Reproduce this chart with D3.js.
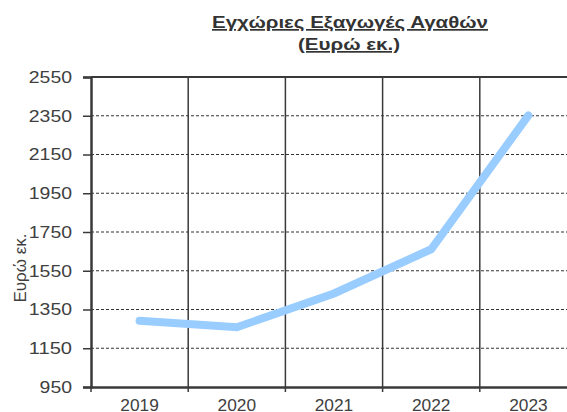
<!DOCTYPE html>
<html>
<head>
<meta charset="utf-8">
<script src="https://cdn.jsdelivr.net/npm/d3@7"></script>
<style>
  html, body { margin: 0; padding: 0; background: #fff; }
  svg { display: block; }
  text { font-family: "Liberation Sans", Arial, sans-serif; }
</style>
</head>
<body>
<svg id="chart" width="567" height="412"></svg>
<script>
// ---- data ----
const years = ["2019", "2020", "2021", "2022", "2023"];
const exportsValues = [1292, 1258, 1433, 1661, 2352];
const yTicks = [950, 1150, 1350, 1550, 1750, 1950, 2150, 2350, 2550];
const titleLines = ["Εγχώριες Εξαγωγές Αγαθών", "(Ευρώ εκ.)"];
const yAxisLabel = "Ευρώ εκ.";

const svg = d3.select("#chart");
const margin = { left: 91, top: 77, bottom: 387 };
const plotRight = 577;

const x = d3.scaleBand().domain(years).range([margin.left, plotRight]).padding(0);
const y = d3.scaleLinear().domain([950, 2550]).range([margin.bottom, margin.top]);

// horizontal dashed gridlines
svg.append("g").selectAll("line")
  .data(yTicks.filter(v => v !== 950 && v !== 2550))
  .join("line")
  .attr("x1", margin.left).attr("x2", plotRight)
  .attr("y1", d => y(d)).attr("y2", d => y(d))
  .attr("stroke", "#333").attr("stroke-width", 1)
  .attr("stroke-dasharray", "3,2");

// vertical gridlines at category boundaries
svg.append("g").selectAll("line")
  .data(years.slice(1))
  .join("line")
  .attr("x1", d => x(d)).attr("x2", d => x(d))
  .attr("y1", margin.top).attr("y2", margin.bottom + 5)
  .attr("stroke", "#3a3a3a").attr("stroke-width", 1.5);

// top border
svg.append("line")
  .attr("x1", margin.left).attr("x2", plotRight)
  .attr("y1", margin.top).attr("y2", margin.top)
  .attr("stroke", "#3a3a3a").attr("stroke-width", 2);

// y axis
const yAxis = d3.axisLeft(y).tickValues(yTicks).tickSize(8).tickPadding(11).tickFormat(d3.format("d"));
const gy = svg.append("g").attr("transform", `translate(${margin.left},0)`).call(yAxis);
gy.select(".domain").attr("stroke", "#3a3a3a").attr("stroke-width", 2.5);
gy.selectAll(".tick line").attr("stroke", "#3a3a3a").attr("stroke-width", 1.5);
gy.selectAll(".tick text").attr("fill", "#404040").attr("font-size", 16.5)
  .attr("textLength", d => String(d).length * 10.8).attr("lengthAdjust", "spacingAndGlyphs");

// x axis
const xAxis = d3.axisBottom(x).tickSize(0).tickPadding(12);
const gx = svg.append("g").attr("transform", `translate(0,${margin.bottom})`).call(xAxis);
gx.select(".domain").attr("stroke", "#3a3a3a").attr("stroke-width", 2.5);
gx.selectAll(".tick text").attr("fill", "#404040").attr("font-size", 16.5)
  .attr("textLength", 38.5).attr("lengthAdjust", "spacingAndGlyphs");
svg.append("g").selectAll("line")
  .data([years[0]])
  .join("line")
  .attr("x1", d => x(d)).attr("x2", d => x(d))
  .attr("y1", margin.bottom).attr("y2", margin.bottom + 5)
  .attr("stroke", "#3a3a3a").attr("stroke-width", 1.5);

// line
const line = d3.line()
  .x((d, i) => x(years[i]) + x.bandwidth() / 2)
  .y(d => y(d));
svg.append("path")
  .datum(exportsValues)
  .attr("d", line)
  .attr("fill", "none")
  .attr("stroke", "#99ccff")
  .attr("stroke-width", 8)
  .attr("stroke-linecap", "round")
  .attr("stroke-linejoin", "miter");

// title
const title = svg.append("text")
  .attr("text-anchor", "middle")
  .attr("font-size", 17).attr("font-weight", "bold")
  .attr("fill", "#333").attr("text-decoration", "underline");
title.append("tspan").attr("x", 350).attr("y", 28)
  .attr("textLength", 276).attr("lengthAdjust", "spacingAndGlyphs").text(titleLines[0]);
title.append("tspan").attr("x", 349).attr("y", 50)
  .attr("textLength", 102).attr("lengthAdjust", "spacingAndGlyphs").text(titleLines[1]);

// y axis label
svg.append("text")
  .attr("transform", "translate(26,268) rotate(-90)")
  .attr("text-anchor", "middle")
  .attr("font-size", 17)
  .attr("fill", "#404040")
  .text(yAxisLabel);
</script>
</body>
</html>
